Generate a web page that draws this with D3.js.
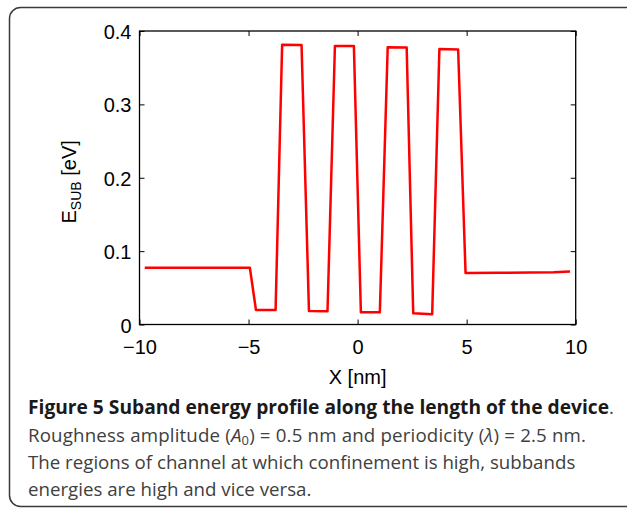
<!DOCTYPE html>
<html>
<head>
<meta charset="utf-8">
<script src="https://cdn.jsdelivr.net/npm/d3@7"></script>
<style>
  body { margin: 0; background: #fff; }
  svg { display: block; }
</style>
</head>
<body>
<script>
// profil d'energie de sous-bande
const xPos = [-9.76, -4.94, -4.66, -3.76, -3.46, -2.57, -2.23, -1.38, -1.04, -0.17, 0.15, 1.02,
              1.38, 2.25, 2.55, 3.42, 3.75, 4.61, 4.95, 6.5, 9.0, 9.74];
const energy = [0.0774, 0.0774, 0.0198, 0.0198, 0.3814, 0.381, 0.0184, 0.018, 0.3796, 0.3796, 0.0166, 0.0166,
                0.3778, 0.3776, 0.0153, 0.014, 0.3755, 0.3748, 0.0702, 0.0705, 0.0712, 0.0722];
const xTicks = [-10, -5, 0, 5, 10];
const xTickLabels = ["\u221210", "\u22125", "0", "5", "10"];
const yTicks = [0, 0.1, 0.2, 0.3, 0.4];
const yTickLabels = ["0", "0.1", "0.2", "0.3", "0.4"];

const W = 627, H = 511;
const mLeft = 139.5, mRight = 575.7, mTop = 31, mBottom = 324.5;

const svg = d3.select("body").append("svg")
    .attr("width", W).attr("height", H);

// cadre arrondi
svg.append("rect")
    .attr("x", 9.5).attr("y", 7.5)
    .attr("width", 660).attr("height", 499)
    .attr("rx", 11).attr("ry", 11)
    .attr("fill", "#fff").attr("stroke", "#3a3a3a").attr("stroke-width", 1.5);

const x = d3.scaleLinear().domain([-10, 10]).range([mLeft, mRight]);
const y = d3.scaleLinear().domain([0, 0.4]).range([mBottom, mTop]);

const tickFont = "'Liberation Sans', Arial, sans-serif";
const fs = 20;

// axes
const gx = svg.append("g").attr("transform", `translate(0,${mBottom})`)
    .call(d3.axisBottom(x).tickValues(xTicks).tickSizeInner(-5).tickSizeOuter(0).tickPadding(15.5)
        .tickFormat((d, i) => xTickLabels[i]));
const gxTop = svg.append("g").attr("transform", `translate(0,${mTop})`)
    .call(d3.axisTop(x).tickValues(xTicks).tickSizeInner(-5).tickSizeOuter(0).tickFormat(""));
const gy = svg.append("g").attr("transform", `translate(${mLeft},0)`)
    .call(d3.axisLeft(y).tickValues(yTicks).tickSizeInner(-5).tickSizeOuter(0).tickPadding(8)
        .tickFormat((d, i) => yTickLabels[i]));
const gyRight = svg.append("g").attr("transform", `translate(${mRight},0)`)
    .call(d3.axisRight(y).tickValues(yTicks).tickSizeInner(-5).tickSizeOuter(0).tickFormat(""));

[gx, gxTop, gy, gyRight].forEach(g => {
    g.select(".domain").remove();
    g.selectAll(".tick line").attr("stroke", "#000").attr("stroke-width", 1);
    g.selectAll("text").attr("font-family", tickFont).attr("font-size", fs).attr("fill", "#000");
});
gy.selectAll("text").attr("dy", "0.38em");

svg.append("rect")
    .attr("x", mLeft).attr("y", mTop)
    .attr("width", mRight - mLeft).attr("height", mBottom - mTop)
    .attr("fill", "none").attr("stroke", "#000").attr("stroke-width", 1.3);

// courbe
const line = d3.line().x((d, i) => x(xPos[i])).y(d => y(d));
svg.append("path")
    .datum(energy)
    .attr("d", line)
    .attr("fill", "none")
    .attr("stroke", "#ff0000")
    .attr("stroke-width", 2.5)
    .attr("stroke-linejoin", "round");

// titres des axes
svg.append("text")
    .attr("x", (mLeft + mRight) / 2).attr("y", 383.5)
    .attr("text-anchor", "middle")
    .attr("font-family", tickFont).attr("font-size", fs)
    .text("X [nm]");

const yl = svg.append("text")
    .attr("transform", "translate(76,223.5) rotate(-90)")
    .attr("font-family", tickFont).attr("font-size", fs);
yl.append("tspan").text("E");
yl.append("tspan").attr("font-size", 14).attr("dy", 5).text("SUB");
yl.append("tspan").attr("dy", -5).text(" [eV]");

// legende
const capFont = "'Open Sans', 'Noto Sans', sans-serif";
const cap = svg.append("g").attr("font-family", capFont).attr("font-size", 18.7).attr("fill", "#404040");

const l1 = cap.append("text").attr("x", 28).attr("y", 414);
l1.append("tspan").attr("font-weight", "bold").attr("fill", "#1a1a1a").attr("font-size", 19.2)
    .text("Figure 5 Suband energy profile along the length of the device");
l1.append("tspan").text(".");

const l2 = cap.append("text").attr("x", 28).attr("y", 441.5)
    .attr("textLength", 558).attr("lengthAdjust", "spacing");
l2.append("tspan").text("Roughness amplitude (");
l2.append("tspan").attr("font-style", "italic").text("A");
l2.append("tspan").attr("font-size", 13).attr("dy", 3).text("0");
l2.append("tspan").attr("dy", -3).text(") = 0.5 nm and periodicity (");
l2.append("tspan").attr("font-style", "italic").text("\u03bb");
l2.append("tspan").text(") = 2.5 nm.");

cap.append("text").attr("x", 28).attr("y", 469).text("The regions of channel at which confinement is high, subbands");
cap.append("text").attr("x", 28).attr("y", 496).text("energies are high and vice versa.");
</script>
</body>
</html>
